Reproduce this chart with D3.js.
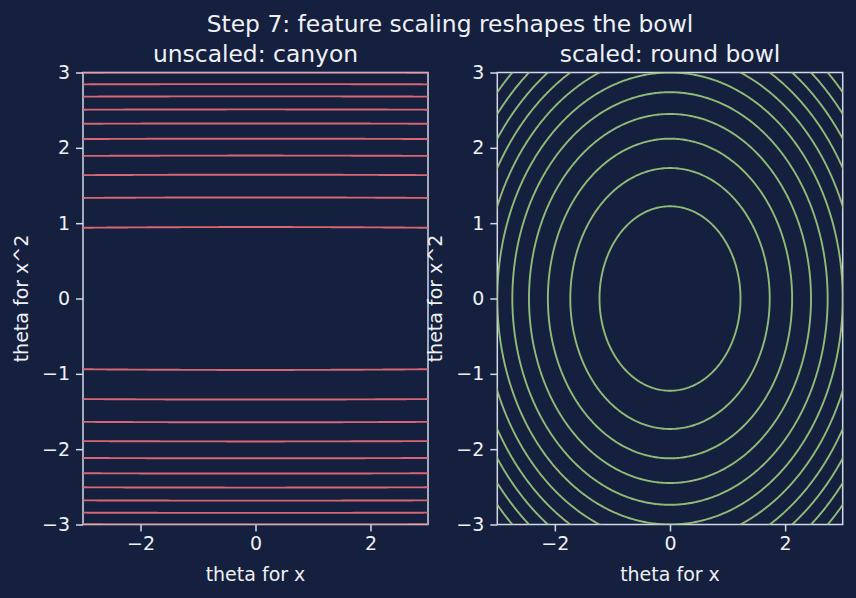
<!DOCTYPE html>
<html>
<head>
<meta charset="utf-8">
<script src="https://cdn.jsdelivr.net/npm/d3@7"></script>
<style>
  html, body { margin: 0; padding: 0; background: #151f3e; }
  svg { display: block; }
  text { font-family: "DejaVu Sans", sans-serif; fill: #eef1f6; }
</style>
</head>
<body>
<svg id="chart" width="856" height="598"></svg>
<script>
// ---- data ----
const figTitle = "Step 7: feature scaling reshapes the bowl";
const panelTitles = ["unscaled: canyon", "scaled: round bowl"];
const xLabel = "theta for x";
const yLabel = "theta for x^2";
const xTicks = [-2, 0, 2];
const yTicks = [-3, -2, -1, 0, 1, 2, 3];
// contour levels
const canyonLevels = [0.9, 1.8, 2.7, 3.6, 4.5, 5.4, 6.3, 7.2, 8.1, 9.0];
const bowlLevels = [1.5, 3.0, 4.5, 6.0, 7.5, 9.0, 10.5, 12.0, 13.5, 15.0, 16.5];
// cost surfaces: weight on theta for x, weight on theta for x^2
const canyonWeights = [0.002, 1];
const bowlWeights = [1, 1];

const svg = d3.select("#chart");

// suptitle
svg.append("text")
  .attr("x", 450)
  .attr("y", 32)
  .attr("font-size", "23.4px")
  .attr("text-anchor", "middle")
  .text(figTitle);

const panels = [
  { left: 83, right: 428, title: panelTitles[0], levels: canyonLevels, w: canyonWeights, color: "#e06c75" },
  { left: 497.3, right: 842.7, title: panelTitles[1], levels: bowlLevels, w: bowlWeights, color: "#98c379" }
];
const axTop = 72.5, axBottom = 524.5;

// grid for the contour surface (a bit wider than the view, clipped later)
const n = 241, lo = -3.3, hi = 3.3, step = (hi - lo) / (n - 1);

panels.forEach((p, k) => {
  const x = d3.scaleLinear().domain([-3, 3]).range([p.left, p.right]);
  const y = d3.scaleLinear().domain([-3, 3]).range([axBottom, axTop]);

  const g = svg.append("g");

  // clip
  const clipId = "clip" + k;
  svg.append("clipPath").attr("id", clipId)
    .append("rect")
    .attr("x", p.left).attr("y", axTop)
    .attr("width", p.right - p.left).attr("height", axBottom - axTop);

  // surface values
  const values = new Array(n * n);
  for (let j = 0; j < n; j++) {
    const ty = lo + j * step;
    for (let i = 0; i < n; i++) {
      const tx = lo + i * step;
      values[j * n + i] = p.w[0] * tx * tx + p.w[1] * ty * ty;
    }
  }

  const contours = d3.contours().size([n, n]).thresholds(p.levels)(values);

  // grid coords -> screen
  const proj = d3.geoTransform({
    point: function(gx, gy) {
      this.stream.point(x(lo + (gx - 0.5) * step), y(lo + (gy - 0.5) * step));
    }
  });
  const path = d3.geoPath(proj);

  // axes
  const bottomAxis = d3.axisBottom(x).tickValues(xTicks).tickFormat(d3.format("d"))
    .tickSize(7).tickPadding(5);
  g.append("g")
    .attr("class", "x axis")
    .attr("transform", `translate(0,${axBottom})`)
    .call(bottomAxis);

  const leftAxis = d3.axisLeft(y).tickValues(yTicks).tickFormat(d3.format("d"))
    .tickSize(7).tickPadding(6);
  g.append("g")
    .attr("class", "y axis")
    .attr("transform", `translate(${p.left},0)`)
    .call(leftAxis);

  g.selectAll(".axis .domain").remove();
  g.selectAll(".axis line").attr("stroke", "#d4d9e6").attr("stroke-width", 1.5);
  g.selectAll(".axis text")
    .attr("font-size", "19px")
    .attr("font-family", "DejaVu Sans")
    .attr("fill", "#eef1f6");

  // spines
  g.append("rect")
    .attr("x", p.left).attr("y", axTop)
    .attr("width", p.right - p.left).attr("height", axBottom - axTop)
    .attr("fill", "none")
    .attr("stroke", "#d4d9e6")
    .attr("stroke-width", 1.5);

  // contour lines (on top, so edge levels tint the spine like the original)
  g.append("g")
    .attr("clip-path", `url(#${clipId})`)
    .selectAll("path")
    .data(contours)
    .join("path")
    .attr("d", path)
    .attr("fill", "none")
    .attr("stroke", p.color)
    .attr("stroke-opacity", 0.95)
    .attr("stroke-width", 1.9);

  // panel title
  g.append("text")
    .attr("x", (p.left + p.right) / 2)
    .attr("y", 61.5)
    .attr("font-size", "23.4px")
    .attr("text-anchor", "middle")
    .text(p.title);

  // x label
  g.append("text")
    .attr("x", (p.left + p.right) / 2)
    .attr("y", 581)
    .attr("font-size", "19px")
    .attr("text-anchor", "middle")
    .text(xLabel);

  // y label
  g.append("text")
    .attr("transform", `translate(${p.left - 55},${(axTop + axBottom) / 2}) rotate(-90)`)
    .attr("font-size", "19px")
    .attr("text-anchor", "middle")
    .text(yLabel);
});
</script>
</body>
</html>
